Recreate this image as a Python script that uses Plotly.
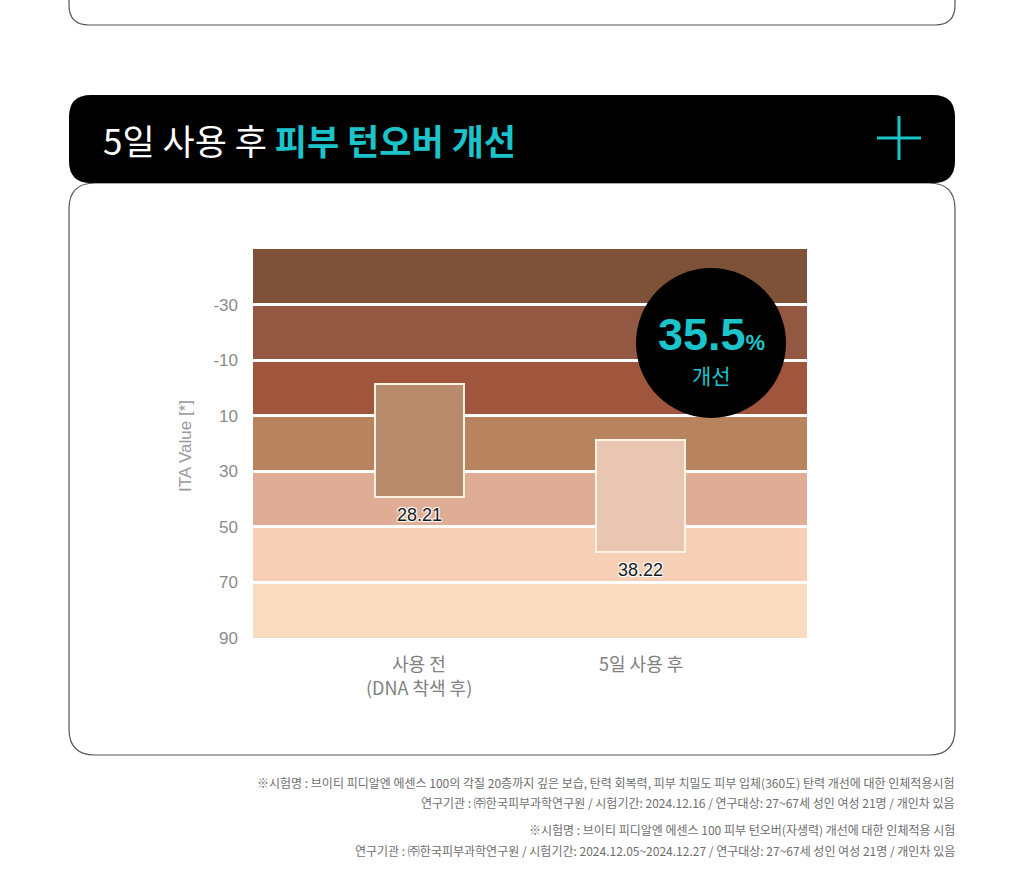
import plotly.graph_objects as go

# ---------------- data ----------------
categories = ["사용 전<br>(DNA 착색 후)", "5일 사용 후"]
bar_base = [-1.4, 18.7]          # ITA range top (reversed axis)
bar_top = [39.3, 59.0]           # ITA range bottom
bar_labels = ["28.21", "38.22"]
bar_colors = ["#b98b6d", "#e8c6b2"]

band_edges = [-50, -30, -10, 10, 30, 50, 70, 90]
band_colors = ["#7e5139", "#935841", "#a0563d", "#b8845f", "#dfad95", "#f6cfb6", "#f9dbc0"]
y_ticks = [-30, -10, 10, 30, 50, 70, 90]
y_tick_text = ["-30", "-10", "10", "30", "50", "70", "90"]

improvement = "35.5"
title_white = "5일 사용 후"
title_cyan = "피부 턴오버 개선"
footnotes = [
    "※시험명 : 브이티 피디알엔 에센스 100의 각질 20층까지 깊은 보습, 탄력 회복력, 피부 치밀도 피부 입체(360도) 탄력 개선에 대한 인체적용시험",
    "연구기관 : ㈜한국피부과학연구원 / 시험기간: 2024.12.16 / 연구대상: 27~67세 성인 여성 21명 / 개인차 있음",
    "※시험명 : 브이티 피디알엔 에센스 100 피부 턴오버(자생력) 개선에 대한 인체적용 시험",
    "연구기관 : ㈜한국피부과학연구원 / 시험기간: 2024.12.05~2024.12.27 / 연구대상: 27~67세 성인 여성 21명 / 개인차 있음",
]

# ---------------- layout helpers ----------------
WIDTH, HEIGHT = 1024, 873
L, R, T, B = 253, 807, 249, 638
PW, PH = R - L, B - T
CYAN = "#1bc4ca"
KR = "Noto Sans CJK KR"
NUM = "Liberation Sans"


def X(px):
    return (px - L) / PW


def Y(py):
    return (B - py) / PH


def rounded_path(x0, y0, x1, y1, r):
    return (f"M {X(x0 + r)},{Y(y0)} L {X(x1 - r)},{Y(y0)} Q {X(x1)},{Y(y0)} {X(x1)},{Y(y0 + r)} "
            f"L {X(x1)},{Y(y1 - r)} Q {X(x1)},{Y(y1)} {X(x1 - r)},{Y(y1)} "
            f"L {X(x0 + r)},{Y(y1)} Q {X(x0)},{Y(y1)} {X(x0)},{Y(y1 - r)} "
            f"L {X(x0)},{Y(y0 + r)} Q {X(x0)},{Y(y0)} {X(x0 + r)},{Y(y0)} Z")


fig = go.Figure()

fig.add_trace(go.Bar(
    x=[0, 1],
    y=[t - b for t, b in zip(bar_top, bar_base)],
    base=bar_base,
    width=0.4,
    marker=dict(color=bar_colors, line=dict(color="#fdf1e2", width=2)),
    hoverinfo="skip",
    showlegend=False,
))

shapes = []
# previous section box bottom
shapes.append(dict(type="path", xref="paper", yref="paper", layer="above",
                   path=f"M {X(69)},{Y(-5)} L {X(69)},{Y(5)} Q {X(69)},{Y(25)} {X(89)},{Y(25)} "
                        f"L {X(935)},{Y(25)} Q {X(955)},{Y(25)} {X(955)},{Y(5)} L {X(955)},{Y(-5)}",
                   line=dict(color="#555555", width=1.2)))
# content box
shapes.append(dict(type="path", xref="paper", yref="paper", layer="below",
                   path=rounded_path(69, 183, 955, 755, 26),
                   fillcolor="white", line=dict(color="#555555", width=1.2)))
# black title bar
shapes.append(dict(type="path", xref="paper", yref="paper", layer="above",
                   path=rounded_path(69, 95, 955, 183, 22),
                   fillcolor="black", line=dict(width=0)))
# plus icon
shapes.append(dict(type="line", xref="paper", yref="paper", layer="above",
                   x0=X(877), x1=X(921), y0=Y(138), y1=Y(138), line=dict(color=CYAN, width=3)))
shapes.append(dict(type="line", xref="paper", yref="paper", layer="above",
                   x0=X(899), x1=X(899), y0=Y(116), y1=Y(160), line=dict(color=CYAN, width=3)))
# skin tone bands
for i, c in enumerate(band_colors):
    shapes.append(dict(type="rect", xref="paper", yref="y", layer="below",
                       x0=0, x1=1, y0=band_edges[i], y1=band_edges[i + 1],
                       fillcolor=c, line=dict(width=0)))
# badge circle
shapes.append(dict(type="circle", xref="paper", yref="paper", layer="above",
                   x0=X(636), x1=X(786), y0=Y(268), y1=Y(418),
                   fillcolor="black", line=dict(width=0)))

annotations = []
annotations.append(dict(xref="paper", yref="paper", x=X(101), y=Y(139), xanchor="left", yanchor="middle",
                        showarrow=False,
                        text=f"{title_white} <b><span style='color:{CYAN}'>{title_cyan}</span></b>",
                        font=dict(family=KR, size=35, color="white")))
annotations.append(dict(xref="paper", yref="paper", x=X(185), y=Y(446), textangle=-90,
                        xanchor="center", yanchor="middle", showarrow=False,
                        text="ITA Value [*]", font=dict(family=NUM, size=17, color="#9a9a9a")))
for i, lab in enumerate(bar_labels):
    annotations.append(dict(x=i, y=bar_top[i], xref="x", yref="y", yanchor="top", yshift=-6,
                            showarrow=False, text=lab,
                            font=dict(family=NUM, size=18, color="#1a1a1a",
                                      shadow="1px 1px 1px white, -1px -1px 1px white, 1px -1px 1px white, -1px 1px 1px white")))
# category labels (one annotation per line, positioned on the category axis)
for i, cat in enumerate(categories):
    for j, line in enumerate(cat.split("<br>")):
        annotations.append(dict(x=i, xref="x", yref="paper", y=Y(663 + 24 * j),
                                xanchor="center", yanchor="middle", showarrow=False, text=line,
                                borderpad=0,
                                font=dict(family=KR, size=18, color="#808080")))
annotations.append(dict(xref="paper", yref="paper", x=X(711), y=Y(334), xanchor="center", yanchor="middle",
                        showarrow=False, borderpad=0,
                        text=f"<b>{improvement}<span style='font-size:22px'>%</span></b>",
                        font=dict(family=NUM, size=45, color=CYAN)))
annotations.append(dict(xref="paper", yref="paper", x=X(711), y=Y(375), xanchor="center", yanchor="middle",
                        showarrow=False, text="개선", borderpad=0,
                        font=dict(family=KR, size=21, color=CYAN)))
for txt, py in zip(footnotes, [782, 802, 829, 850]):
    annotations.append(dict(xref="paper", yref="paper", x=X(956), y=Y(py), xanchor="right", yanchor="middle",
                            showarrow=False, text=txt, borderpad=0,
                            font=dict(family=KR, size=12, color="#6e6e6e")))

fig.update_layout(
    width=WIDTH, height=HEIGHT,
    margin=dict(l=L, r=WIDTH - R, t=T, b=HEIGHT - B, pad=0),
    paper_bgcolor="white", plot_bgcolor="rgba(0,0,0,0)",
    shapes=shapes, annotations=annotations,
    bargap=0,
    xaxis=dict(range=[-0.75, 1.75], tickvals=[0, 1], showticklabels=False,
               showgrid=False, zeroline=False, showline=False, ticks="", fixedrange=True),
    yaxis=dict(range=[90, -50], tickvals=y_ticks, ticktext=y_tick_text,
               showgrid=True, gridcolor="white", gridwidth=3,
               zeroline=False, showline=False, ticks="", ticklabelstandoff=14,
               tickfont=dict(family=NUM, size=17, color="#8a8a8a"), fixedrange=True),
)

fig.write_html("out.html")
